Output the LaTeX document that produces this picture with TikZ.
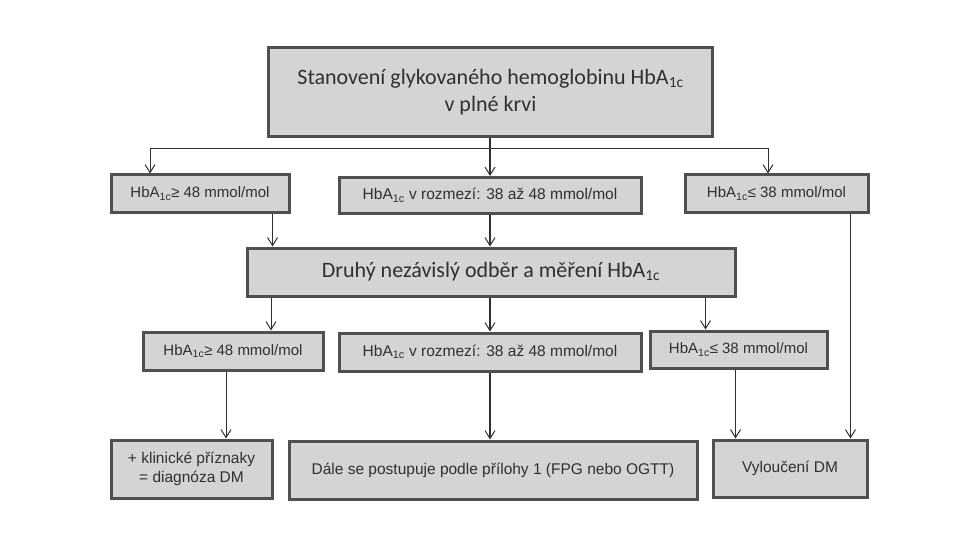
\documentclass[tikz,border=0pt]{standalone}
\usepackage{fontspec}
\setmainfont{Liberation Sans}
\newfontfamily\calibrifont{Carlito}
\usetikzlibrary{arrows.meta}
\definecolor{boxfill}{HTML}{D4D4D4}
\definecolor{boxline}{HTML}{505050}
\definecolor{txtgray}{HTML}{303030}
\tikzset{
  stepbox/.style={draw=boxline,line width=3pt,fill=boxfill,text=txtgray,inner sep=2pt,align=center,
    font=\fontsize{15.5}{19}\selectfont},
  limitbox/.style={stepbox,font=\fontsize{15}{19}\selectfont},
  bigbox/.style={stepbox,font=\calibrifont\fontsize{22}{27}\selectfont},
  link/.style={draw=txtgray,line width=1pt,-{Straight Barb[length=8pt,width=10pt,line width=1pt]}},
  mainlink/.style={link,line width=1.8pt}
}
\begin{document}
\begin{tikzpicture}[x=1pt,y=-1pt]
  \useasboundingbox (0,0) rectangle (960,540);
  \node[bigbox,minimum width=444pt,minimum height=89pt] (top) at (490.5,92) {Stanovení glykovaného hemoglobinu HbA\textsubscript{1c}\\v plné krvi};
  \node[limitbox,minimum width=178pt,minimum height=37pt] (r1l) at (200,193.5) {HbA\textsubscript{1c}≥ 48 mmol/mol};
  \node[stepbox,minimum width=302pt,minimum height=36pt] (r1m) at (490,195.5) {HbA\textsubscript{1c} v rozmezí: 38 až 48 mmol/mol};
  \node[limitbox,minimum width=183pt,minimum height=37pt] (r1r) at (776.5,193.5) {HbA\textsubscript{1c}≤ 38 mmol/mol};
  \node[bigbox,minimum width=488pt,minimum height=48pt] (r2) at (491,272) {Druhý nezávislý odběr a měření HbA\textsubscript{1c}};
  \node[limitbox,minimum width=180pt,minimum height=38pt] (r3l) at (233,351) {HbA\textsubscript{1c}≥ 48 mmol/mol};
  \node[stepbox,minimum width=302pt,minimum height=38pt] (r3m) at (490,352) {HbA\textsubscript{1c} v rozmezí: 38 až 48 mmol/mol};
  \node[limitbox,minimum width=177pt,minimum height=37pt] (r3r) at (738.5,349.5) {HbA\textsubscript{1c}≤ 38 mmol/mol};
  \node[stepbox,minimum width=161pt,minimum height=58pt] (r4l) at (191.5,469) {+ klinické příznaky\\= diagnóza DM};
  \node[stepbox,minimum width=408pt,minimum height=58pt] (r4m) at (493,470) {Dále se postupuje podle přílohy 1 (FPG nebo OGTT)};
  \node[stepbox,minimum width=154pt,minimum height=57pt] (r4r) at (790,468.5) {Vyloučení DM};
  % first split
  \coordinate (split) at (490,149);
  \draw[mainlink] (top.south -| r1m.north) -- (r1m.north);
  \draw[link] (split) -| ([xshift=-50pt]r1l.north);
  \draw[link] (split) -| ([xshift=-8.5pt]r1r.north);
  % into second measurement
  \draw[link] ([xshift=-18pt]r1l.south east) -- ([xshift=-18pt]r1l.south east |- r2.north);
  \draw[mainlink] (r1m.south) -- (r1m.south |- r2.north);
  \draw[link] ([xshift=-19pt]r1r.south east) -- ([xshift=-19pt]r1r.south east |- r4r.north);
  % second split
  \draw[link] ([xshift=38pt]r3l.north |- r2.south) -- ([xshift=38pt]r3l.north);
  \draw[mainlink] (r3m.north |- r2.south) -- (r3m.north);
  \draw[link] ([xshift=-33pt]r3r.north |- r2.south) -- ([xshift=-33pt]r3r.north);
  % results
  \draw[link] ([xshift=-7pt]r3l.south) -- ([xshift=-7pt]r3l.south |- r4l.north);
  \draw[mainlink] (r3m.south) -- (r3m.south |- r4m.north);
  \draw[link] ([xshift=-3pt]r3r.south) -- ([xshift=-3pt]r3r.south |- r4r.north);
\end{tikzpicture}
\end{document}
